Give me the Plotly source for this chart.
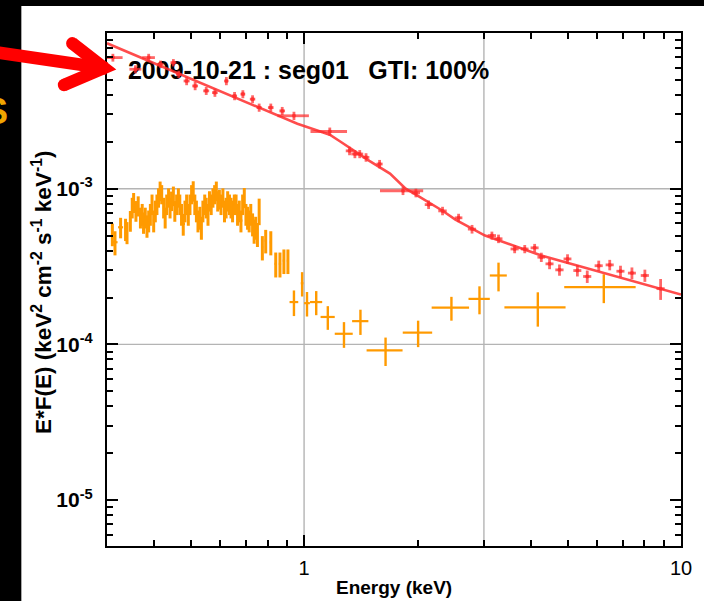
import math
import plotly.graph_objects as go

# ---------------- orange spectrum: narrow low-energy bins ----------------
soft_energy = [
    0.310, 0.315, 0.326, 0.336, 0.339, 0.346, 0.350, 0.353, 0.358, 0.363,
    0.368, 0.372, 0.375, 0.379, 0.383, 0.387, 0.391, 0.395, 0.399, 0.403,
    0.407, 0.411, 0.415, 0.419, 0.424, 0.428, 0.432, 0.437, 0.441, 0.445,
    0.450, 0.454, 0.459, 0.464, 0.468, 0.473, 0.478, 0.483, 0.488, 0.493,
    0.498, 0.503, 0.508, 0.513, 0.518, 0.523, 0.529, 0.534, 0.539, 0.545,
    0.550, 0.556, 0.561, 0.567, 0.573, 0.579, 0.585, 0.590, 0.596, 0.602,
    0.609, 0.615, 0.621, 0.627, 0.634, 0.640, 0.646, 0.653, 0.660, 0.666,
    0.673, 0.680, 0.687, 0.694, 0.701, 0.708, 0.715, 0.722, 0.730, 0.737,
    0.744, 0.752, 0.760, 0.775, 0.791, 0.816, 0.841, 0.863, 0.884, 0.906,
]
soft_flux = [
    5.12e-4, 4.53e-4, 5.65e-4, 5.51e-4, 5.25e-4, 6.24e-4, 7.59e-4, 8.18e-4, 7.23e-4, 7.78e-4,
    6.55e-4, 6.88e-4, 6.08e-4, 6.55e-4, 5.79e-4, 6.24e-4, 6.88e-4, 7.97e-4, 6.24e-4, 7.23e-4,
    7.97e-4, 8.80e-4, 9.71e-4, 9.24e-4, 7.59e-4, 6.55e-4, 7.97e-4, 8.80e-4, 7.59e-4, 8.38e-4,
    9.02e-4, 7.23e-4, 7.97e-4, 8.80e-4, 7.97e-4, 6.88e-4, 5.94e-4, 7.23e-4, 7.97e-4, 6.88e-4,
    7.97e-4, 9.24e-4, 9.71e-4, 7.97e-4, 7.23e-4, 6.24e-4, 6.55e-4, 5.65e-4, 7.23e-4, 7.97e-4,
    7.59e-4, 6.88e-4, 8.38e-4, 7.97e-4, 8.80e-4, 9.24e-4, 9.71e-4, 8.38e-4, 8.59e-4, 7.97e-4,
    8.80e-4, 7.23e-4, 7.59e-4, 8.38e-4, 7.97e-4, 7.59e-4, 7.23e-4, 7.97e-4, 7.97e-4, 6.88e-4,
    7.23e-4, 6.24e-4, 7.97e-4, 8.80e-4, 6.88e-4, 6.55e-4, 6.24e-4, 6.88e-4, 5.94e-4, 5.38e-4,
    5.65e-4, 5.12e-4, 7.23e-4, 4.21e-4, 4.64e-4, 4.53e-4, 3.29e-4, 3.29e-4, 3.45e-4, 3.45e-4,
]
soft_flux_err = [
    0.85e-4, 0.80e-4, 0.85e-4, 0.90e-4, 0.85e-4, 0.95e-4, 1.15e-4, 1.20e-4, 1.10e-4, 1.15e-4,
    1.00e-4, 1.10e-4, 0.95e-4, 1.00e-4, 0.95e-4, 1.00e-4, 1.10e-4, 1.20e-4, 1.00e-4, 1.15e-4,
    1.20e-4, 1.25e-4, 1.40e-4, 1.30e-4, 1.15e-4, 1.00e-4, 1.20e-4, 1.25e-4, 1.15e-4, 1.20e-4,
    1.30e-4, 1.10e-4, 1.20e-4, 1.25e-4, 1.20e-4, 1.10e-4, 0.95e-4, 1.15e-4, 1.20e-4, 1.10e-4,
    1.20e-4, 1.30e-4, 1.45e-4, 1.20e-4, 1.15e-4, 1.00e-4, 1.10e-4, 0.95e-4, 1.15e-4, 1.20e-4,
    1.15e-4, 1.10e-4, 1.25e-4, 1.20e-4, 1.25e-4, 1.30e-4, 1.40e-4, 1.25e-4, 1.25e-4, 1.20e-4,
    1.25e-4, 1.15e-4, 1.15e-4, 1.25e-4, 1.20e-4, 1.15e-4, 1.15e-4, 1.20e-4, 1.20e-4, 1.10e-4,
    1.15e-4, 1.00e-4, 1.20e-4, 1.30e-4, 1.10e-4, 1.10e-4, 1.00e-4, 1.10e-4, 1.00e-4, 0.95e-4,
    0.95e-4, 0.90e-4, 1.40e-4, 0.75e-4, 0.80e-4, 0.80e-4, 0.60e-4, 0.60e-4, 0.62e-4, 0.62e-4,
]
soft_energy_err = [
    0.002, 0.005, 0.005, 0.002, 0.002, 0.002, 0.002, 0.002, 0.002, 0.002,
    0.002, 0.002, 0.002, 0.002, 0.002, 0.002, 0.002, 0.002, 0.002, 0.002,
    0.002, 0.002, 0.002, 0.002, 0.002, 0.002, 0.002, 0.002, 0.002, 0.002,
    0.002, 0.002, 0.002, 0.002, 0.002, 0.002, 0.005, 0.002, 0.002, 0.002,
    0.002, 0.002, 0.002, 0.002, 0.002, 0.002, 0.002, 0.002, 0.002, 0.002,
    0.002, 0.002, 0.002, 0.002, 0.002, 0.002, 0.002, 0.002, 0.002, 0.002,
    0.002, 0.002, 0.002, 0.002, 0.002, 0.002, 0.002, 0.002, 0.002, 0.002,
    0.002, 0.006, 0.002, 0.002, 0.002, 0.002, 0.002, 0.002, 0.002, 0.002,
    0.002, 0.002, 0.003, 0.004, 0.005, 0.005, 0.006, 0.006, 0.006, 0.006,
]

# ---------------- orange spectrum: wide high-energy bins ----------------
hard_energy = [0.94, 0.988, 1.018, 1.077, 1.156, 1.276, 1.411, 1.645, 2.007, 2.46, 2.92, 3.28, 4.17, 6.24]
hard_flux = [1.87e-4, 2.47e-4, 1.84e-4, 1.87e-4, 1.50e-4, 1.17e-4, 1.41e-4, 9.16e-5, 1.19e-4, 1.72e-4,
             1.96e-4, 2.77e-4, 1.73e-4, 2.33e-4]
hard_energy_err = [0.025, 0.008, 0.018, 0.04, 0.05, 0.07, 0.07, 0.18, 0.18, 0.28, 0.19, 0.17, 0.77, 1.34]
hard_flux_err = [0.35e-4, 0.44e-4, 0.33e-4, 0.33e-4, 0.26e-4, 0.22e-4, 0.26e-4, 0.19e-4, 0.23e-4, 0.30e-4,
                 0.40e-4, 0.58e-4, 0.43e-4, 0.49e-4]

# ---------------- red spectrum: data ----------------
red_energy = [
    0.311, 0.357, 0.387, 0.416, 0.450, 0.465, 0.488, 0.514, 0.550, 0.580,
    0.622, 0.654, 0.688, 0.730, 0.760, 0.816, 0.875, 0.940, 1.17, 1.32,
    1.364, 1.405, 1.46, 1.586, 1.83, 1.98, 2.14, 2.33, 2.57, 2.79,
    3.15, 3.28, 3.62, 3.85, 4.09, 4.26, 4.48, 4.76, 5.00, 5.31,
    5.64, 6.05, 6.47, 6.91, 7.41, 8.02, 8.83,
]
red_flux = [
    6.95e-3, 5.85e-3, 6.95e-3, 6.30e-3, 6.45e-3, 5.43e-3, 4.92e-3, 4.57e-3, 4.25e-3, 4.14e-3,
    4.92e-3, 3.94e-3, 4.05e-3, 3.76e-3, 3.32e-3, 3.32e-3, 3.16e-3, 2.94e-3, 2.33e-3, 1.75e-3,
    1.67e-3, 1.67e-3, 1.59e-3, 1.44e-3, 9.70e-4, 9.40e-4, 7.90e-4, 7.20e-4, 6.50e-4, 5.50e-4,
    5.00e-4, 4.77e-4, 4.10e-4, 4.10e-4, 4.17e-4, 3.63e-4, 3.29e-4, 3.01e-4, 3.54e-4, 2.98e-4,
    2.73e-4, 3.20e-4, 3.24e-4, 2.95e-4, 2.87e-4, 2.77e-4, 2.28e-4,
]
red_energy_err = [
    0.019, 0.013, 0.015, 0.008, 0.008, 0.008, 0.009, 0.009, 0.010, 0.010,
    0.008, 0.010, 0.010, 0.012, 0.012, 0.014, 0.015, 0.090, 0.130, 0.030,
    0.030, 0.030, 0.030, 0.030, 0.240, 0.050, 0.050, 0.060, 0.060, 0.070,
    0.080, 0.080, 0.090, 0.090, 0.100, 0.100, 0.110, 0.120, 0.120, 0.130,
    0.140, 0.150, 0.160, 0.170, 0.180, 0.200, 0.220,
]
red_flux_err = [
    4.0e-4, 3.5e-4, 4.0e-4, 3.5e-4, 3.5e-4, 3.0e-4, 3.0e-4, 2.8e-4, 2.5e-4, 2.5e-4,
    3.0e-4, 2.4e-4, 2.4e-4, 2.2e-4, 2.0e-4, 2.0e-4, 1.9e-4, 1.8e-4, 1.4e-4, 1.1e-4,
    1.0e-4, 1.0e-4, 1.0e-4, 9.0e-5, 6.0e-5, 6.0e-5, 5.0e-5, 4.5e-5, 4.0e-5, 3.5e-5,
    3.0e-5, 3.0e-5, 2.5e-5, 2.5e-5, 2.5e-5, 2.5e-5, 2.5e-5, 2.5e-5, 2.5e-5, 2.5e-5,
    2.5e-5, 2.5e-5, 2.5e-5, 2.5e-5, 2.5e-5, 2.5e-5, 3.5e-5,
]

# ---------------- red spectrum: model curve ----------------
model_energy = [0.30, 0.343, 0.40, 0.50, 0.62, 0.76, 0.96, 1.06, 1.17, 1.247, 1.32, 1.49,
                1.69, 1.86, 2.00, 2.33, 2.52, 3.02, 4.26, 6.36, 9.73, 10.0]
model_flux = [8.59e-3, 7.48e-3, 6.40e-3, 5.09e-3, 4.07e-3, 3.31e-3, 2.61e-3, 2.41e-3, 2.22e-3, 2.01e-3,
              1.83e-3, 1.51e-3, 1.25e-3, 1.0e-3, 9.02e-4, 7.22e-4, 6.33e-4, 5.0e-4, 3.72e-4, 2.85e-4,
              2.13e-4, 2.09e-4]

# axis ticks
x_major = [1, 10]
x_major_text = ["1", "10"]
x_minor = [0.4, 0.5, 0.6, 0.7, 0.8, 0.9, 2, 3, 4, 5, 6, 7, 8, 9]
x_grid = [1, 3]
y_major = [1e-5, 1e-4, 1e-3]
y_major_text = ["<b>10<sup>-5</sup></b>", "<b>10<sup>-4</sup></b>", "<b>10<sup>-3</sup></b>"]
y_minor = [6e-6, 7e-6, 8e-6, 9e-6] + [k * 1e-5 for k in range(2, 10)] \
          + [k * 1e-4 for k in range(2, 10)] + [k * 1e-3 for k in range(2, 10)]
y_grid = [1e-3, 1e-4]

header_left = "2009-10-21 : seg01"
header_right = "GTI: 100%"

FONT = "Liberation Sans, Arial, Helvetica, sans-serif"
ORANGE = "#ff9a00"
RED = "rgba(255,45,45,0.72)"

W, H = 704, 601
L, R, T, B = 107, 14, 33, 55
PW, PH = W - L - R, H - T - B


def px(x):
    return (x - L) / PW


def py(y):
    return (H - B - y) / PH


fig = go.Figure()

# header text drawn as a text trace so the red spectrum passes over it
fig.add_trace(go.Scatter(
    x=[0.341, 1.48], y=[5.55e-3, 5.55e-3], mode="text",
    text=[f"<b>{header_left}</b>", f"<b>{header_right}</b>"],
    textposition="middle right",
    textfont=dict(size=25, family=FONT, color="black"),
    hoverinfo="skip", showlegend=False,
))

fig.add_trace(go.Scatter(
    x=soft_energy, y=soft_flux, mode="markers",
    marker=dict(size=1, color=ORANGE, opacity=0),
    error_x=dict(type="data", array=soft_energy_err, color=ORANGE, thickness=2.2, width=0),
    error_y=dict(type="data", array=soft_flux_err, color=ORANGE, thickness=3, width=0),
    showlegend=False,
))
fig.add_trace(go.Scatter(
    x=hard_energy, y=hard_flux, mode="markers",
    marker=dict(size=1, color=ORANGE, opacity=0),
    error_x=dict(type="data", array=hard_energy_err, color=ORANGE, thickness=2.2, width=0),
    error_y=dict(type="data", array=hard_flux_err, color=ORANGE, thickness=2.4, width=0),
    showlegend=False,
))
fig.add_trace(go.Scatter(
    x=model_energy, y=model_flux, mode="lines",
    line=dict(color="rgba(255,45,45,0.85)", width=2.6),
    showlegend=False,
))
fig.add_trace(go.Scatter(
    x=red_energy, y=red_flux, mode="markers",
    marker=dict(size=4, color=RED, symbol="circle"),
    error_x=dict(type="data", array=red_energy_err, color=RED, thickness=2.8, width=0),
    error_y=dict(type="data", array=red_flux_err, color=RED, thickness=2.8, width=0),
    showlegend=False,
))

shapes = [
    # white page panel inside the black frame
    dict(type="rect", xref="paper", yref="paper", x0=px(20), x1=px(W + 10), y0=py(H + 10), y1=py(6),
         fillcolor="white", line=dict(width=0), layer="below"),
]
for gx in x_grid:
    shapes.append(dict(type="line", xref="x", yref="paper", x0=gx, x1=gx, y0=0, y1=1,
                       line=dict(color="#b4b4b4", width=1.4), layer="below"))
for gy in y_grid:
    shapes.append(dict(type="line", xref="paper", yref="y", x0=0, x1=1, y0=gy, y1=gy,
                       line=dict(color="#b4b4b4", width=1.4), layer="below"))

# red pointer arrow at the top-left
AW = 12.5
tip = (104, 68)
wing_up = (71.7, 43.3)
wing_low = (63.3, 85)
shaft_start = (-8, 52)
shapes.append(dict(type="line", xref="paper", yref="paper",
                   x0=px(shaft_start[0]), y0=py(shaft_start[1]), x1=px(tip[0] + 3), y1=py(tip[1] + 0.5),
                   line=dict(color="#ff0000", width=AW), layer="above"))
shapes.append(dict(type="path", xref="paper", yref="paper",
                   path=f"M {px(wing_up[0])},{py(wing_up[1])} L {px(tip[0])},{py(tip[1])} "
                        f"L {px(wing_low[0])},{py(wing_low[1])}",
                   line=dict(color="#ff0000", width=AW), layer="above"))
for cx, cy in (wing_up, wing_low):
    r = AW / 2
    shapes.append(dict(type="circle", xref="paper", yref="paper",
                       x0=px(cx - r), x1=px(cx + r), y0=py(cy + r), y1=py(cy - r),
                       fillcolor="#ff0000", line=dict(width=0), layer="above"))

annotations = [
    dict(text="<b>Energy (keV)</b>", xref="paper", yref="paper", x=px(398.5), y=py(587),
         showarrow=False, font=dict(size=19, family=FONT, color="black"),
         xanchor="center", yanchor="middle"),
    dict(text="<b>E*F(E) (keV<sup>2</sup> cm<sup>-2</sup> s<sup>-1</sup> keV<sup>-1</sup>)</b>",
         xref="paper", yref="paper", x=px(41), y=py(293), textangle=-90,
         showarrow=False, font=dict(size=22.5, family=FONT, color="black"),
         xanchor="center", yanchor="middle"),
    dict(text="<b>S</b>", xref="paper", yref="paper", x=px(-6), y=py(111),
         showarrow=False, font=dict(size=36, family=FONT, color="#f0a500"),
         xanchor="center", yanchor="middle"),
]

axis_common = dict(
    type="log", showline=True, linecolor="black", linewidth=2.2, mirror="allticks",
    ticks="inside", ticklen=11, tickwidth=2, tickcolor="black",
    showgrid=False, zeroline=False,
)

fig.update_layout(
    width=W, height=H,
    margin=dict(l=L, r=R, t=T, b=B),
    paper_bgcolor="black", plot_bgcolor="white",
    xaxis=dict(axis_common, range=[math.log10(0.3), 1.0],
               tickvals=x_major, ticktext=x_major_text, ticklabelstandoff=3,
               tickfont=dict(size=20, family=FONT, color="black"),
               minor=dict(tickvals=x_minor, ticks="inside", ticklen=6, tickwidth=2,
                          tickcolor="black", showgrid=False)),
    yaxis=dict(axis_common, range=[math.log10(5.07e-6), -2.0],
               tickvals=y_major, ticktext=y_major_text, ticklabelstandoff=8,
               tickfont=dict(size=21, family=FONT, color="black"),
               minor=dict(tickvals=y_minor, ticks="inside", ticklen=6, tickwidth=2,
                          tickcolor="black", showgrid=False)),
    shapes=shapes,
    annotations=annotations,
    showlegend=False,
)

fig.write_html("out.html")
